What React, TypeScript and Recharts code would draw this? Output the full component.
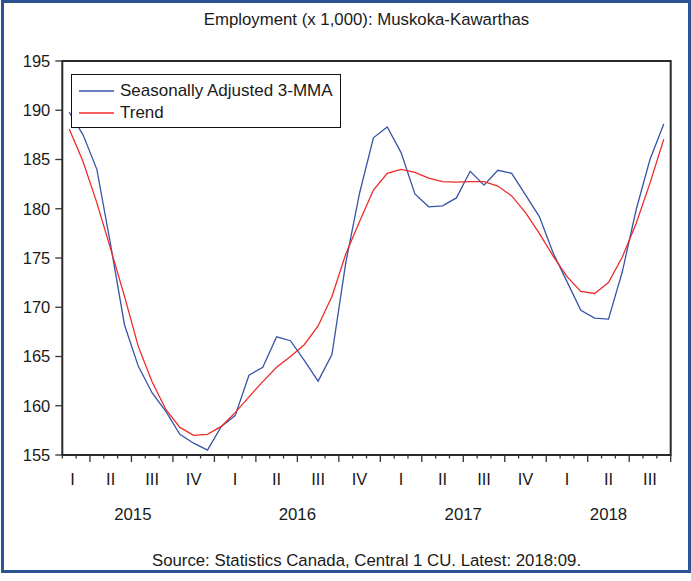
import React from 'react';
import { LineChart, Line, XAxis, YAxis, ReferenceArea, Legend } from 'recharts';

// Monthly observations, Feb 2015 .. Sep 2018
const months = [
  '2015-02', '2015-03', '2015-04', '2015-05', '2015-06', '2015-07', '2015-08', '2015-09', '2015-10', '2015-11', '2015-12',
  '2016-01', '2016-02', '2016-03', '2016-04', '2016-05', '2016-06', '2016-07', '2016-08', '2016-09', '2016-10', '2016-11', '2016-12',
  '2017-01', '2017-02', '2017-03', '2017-04', '2017-05', '2017-06', '2017-07', '2017-08', '2017-09', '2017-10', '2017-11', '2017-12',
  '2018-01', '2018-02', '2018-03', '2018-04', '2018-05', '2018-06', '2018-07', '2018-08', '2018-09',
];

const seasonallyAdjusted3MMA = [
  189.8, 187.5, 184.0, 176.3, 168.2, 164.0, 161.3, 159.4, 157.1, 156.2, 155.5,
  157.9, 159.0, 163.1, 163.9, 167.0, 166.6, 164.6, 162.5, 165.2, 174.5, 181.6, 187.2,
  188.3, 185.7, 181.5, 180.2, 180.3, 181.1, 183.8, 182.4, 183.9, 183.6, 181.4, 179.2,
  175.5, 172.6, 169.7, 168.9, 168.8, 173.6, 179.9, 185.0, 188.6,
];

const trend = [
  188.1, 184.8, 180.6, 175.9, 171.1, 166.0, 162.4, 159.6, 157.8, 157.0, 157.1,
  157.9, 159.3, 160.9, 162.45, 163.9, 165.0, 166.2, 168.1, 171.1, 175.4, 178.7, 181.9,
  183.6, 184.0, 183.7, 183.1, 182.75, 182.7, 182.75, 182.75, 182.3, 181.3, 179.6, 177.5,
  175.2, 173.1, 171.6, 171.4, 172.5, 175.1, 178.5, 182.6, 187.05,
];

const yTicks = [155, 160, 165, 170, 175, 180, 185, 190, 195];

const quarterTickPositions = [0.25, 3, 6, 9, 12, 15, 18, 21, 24, 27, 30, 33, 36, 39, 42];
const quarterLabels = ['I', 'II', 'III', 'IV', 'I', 'II', 'III', 'IV', 'I', 'II', 'III', 'IV', 'I', 'II', 'III'];

const yearTickPositions = [4.6, 16.5, 28.5, 39];
const yearLabels = ['2015', '2016', '2017', '2018'];

const seriesNames = ['Seasonally Adjusted 3-MMA', 'Trend'];
const seriesColors = ['#3655a8', '#ee2b2b'];

const data = months.map((m, i) => ({
  idx: i,
  month: m,
  sa: seasonallyAdjusted3MMA[i],
  trend: trend[i],
}));

// month boundaries: value k-0.5 precedes observation k
const boundaryTicks = Array.from({ length: months.length + 1 }, (_, k) => k - 0.5);
const isQuarterStart = (k: number) => {
  const ref = k < months.length ? months[k] : null;
  const monthNum = ref ? parseInt(ref.slice(5), 10) : ((parseInt(months[months.length - 1].slice(5), 10) % 12) + 1);
  return (monthNum - 1) % 3 === 0;
};

const FONT = '"Liberation Sans", Arial, sans-serif';
const TEXT = '#1a1a1a';

const BoundaryTick = (props: any) => {
  const { x, y, payload } = props;
  const k = Math.round(payload.value + 0.5);
  const len = isQuarterStart(k) ? 7 : 3.5;
  return <line x1={x} x2={x} y1={y} y2={y + len} stroke="#333" strokeWidth={1.3} />;
};

const LegendBox = () => (
  <div
    style={{
      position: 'relative',
      width: 270,
      height: 54,
      border: '1px solid #111',
      boxSizing: 'border-box',
      background: '#fff',
      fontFamily: FONT,
      fontSize: 17,
      color: TEXT,
    }}
  >
    {seriesNames.map((name, i) => (
      <div key={name} style={{ position: 'absolute', left: 0, top: i === 0 ? 5 : 27, height: 22, width: 268 }}>
        <svg width={40} height={22} style={{ position: 'absolute', left: 7, top: 0 }}>
          <line x1={0} x2={35} y1={11} y2={11} stroke={seriesColors[i]} strokeWidth={1.3} />
        </svg>
        <span style={{ position: 'absolute', left: 48, top: 0, lineHeight: '22px', whiteSpace: 'nowrap' }}>{name}</span>
      </div>
    ))}
  </div>
);

export default function App() {
  return (
    <div style={{ position: 'absolute', left: 0, top: 0, width: 691, height: 581, background: '#fff', fontFamily: FONT }}>
      <div
        style={{
          position: 'absolute',
          left: 1,
          top: 0,
          width: 690,
          height: 573,
          border: '3px solid #2e5395',
          boxSizing: 'border-box',
        }}
      />
      <div
        style={{
          position: 'absolute',
          left: 62,
          width: 609,
          top: 10,
          lineHeight: '20px',
          textAlign: 'center',
          fontSize: 16.8,
          color: TEXT,
          whiteSpace: 'nowrap',
        }}
      >
        Employment (x 1,000): Muskoka-Kawarthas
      </div>
      <div style={{ position: 'absolute', left: 0, top: 0 }}>
        <LineChart width={691} height={581} data={data} margin={{ top: 61, right: 20.3, bottom: 52, left: 0 }}>
          <XAxis
            xAxisId="m"
            dataKey="idx"
            type="number"
            domain={[-0.5, 43.5]}
            allowDataOverflow
            ticks={boundaryTicks}
            interval={0}
            axisLine={false}
            tickLine={false}
            tickSize={0}
            tickMargin={0}
            height={8}
            tick={<BoundaryTick />}
          />
          <XAxis
            xAxisId="q"
            dataKey="idx"
            type="number"
            domain={[-0.5, 43.5]}
            allowDataOverflow
            ticks={quarterTickPositions}
            interval={0}
            axisLine={false}
            tickLine={false}
            tickSize={0}
            tickMargin={10}
            height={36}
            tickFormatter={(v: number) => quarterLabels[quarterTickPositions.indexOf(v)] ?? ''}
            tick={{ fill: TEXT, fontSize: 16.5, fontFamily: FONT }}
          />
          <XAxis
            xAxisId="y"
            dataKey="idx"
            type="number"
            domain={[-0.5, 43.5]}
            allowDataOverflow
            ticks={yearTickPositions}
            interval={0}
            axisLine={false}
            tickLine={false}
            tickSize={0}
            tickMargin={9.5}
            height={30}
            tickFormatter={(v: number) => yearLabels[yearTickPositions.indexOf(v)] ?? ''}
            tick={{ fill: TEXT, fontSize: 16.8, fontFamily: FONT }}
          />
          <YAxis
            yAxisId="left"
            type="number"
            domain={[155, 195]}
            ticks={yTicks}
            interval={0}
            width={62.3}
            axisLine={false}
            tickSize={7}
            tickMargin={5}
            tickLine={{ stroke: '#333', strokeWidth: 1.3 }}
            tick={{ fill: TEXT, fontSize: 16.5, fontFamily: FONT }}
          />
          <ReferenceArea
            xAxisId="m"
            yAxisId="left"
            x1={-0.5}
            x2={43.5}
            y1={155}
            y2={195}
            fill="none"
            fillOpacity={0}
            stroke="#2a2a2a"
            strokeWidth={2}
            ifOverflow="visible"
          />
          <Line
            xAxisId="m"
            yAxisId="left"
            type="linear"
            dataKey="sa"
            name={seriesNames[0]}
            stroke={seriesColors[0]}
            strokeWidth={1.3}
            dot={false}
            isAnimationActive={false}
          />
          <Line
            xAxisId="m"
            yAxisId="left"
            type="linear"
            dataKey="trend"
            name={seriesNames[1]}
            stroke={seriesColors[1]}
            strokeWidth={1.3}
            dot={false}
            isAnimationActive={false}
          />
          <Legend
            layout="horizontal"
            verticalAlign="middle"
            align="center"
            wrapperStyle={{ position: 'absolute', left: 71, top: 74, width: 270, height: 54 }}
            content={() => <LegendBox />}
          />
        </LineChart>
      </div>
      <div
        style={{
          position: 'absolute',
          left: 62,
          width: 609,
          top: 550.5,
          lineHeight: '20px',
          textAlign: 'center',
          fontSize: 16.8,
          color: TEXT,
          whiteSpace: 'nowrap',
        }}
      >
        Source: Statistics Canada, Central 1 CU. Latest: 2018:09.
      </div>
    </div>
  );
}
